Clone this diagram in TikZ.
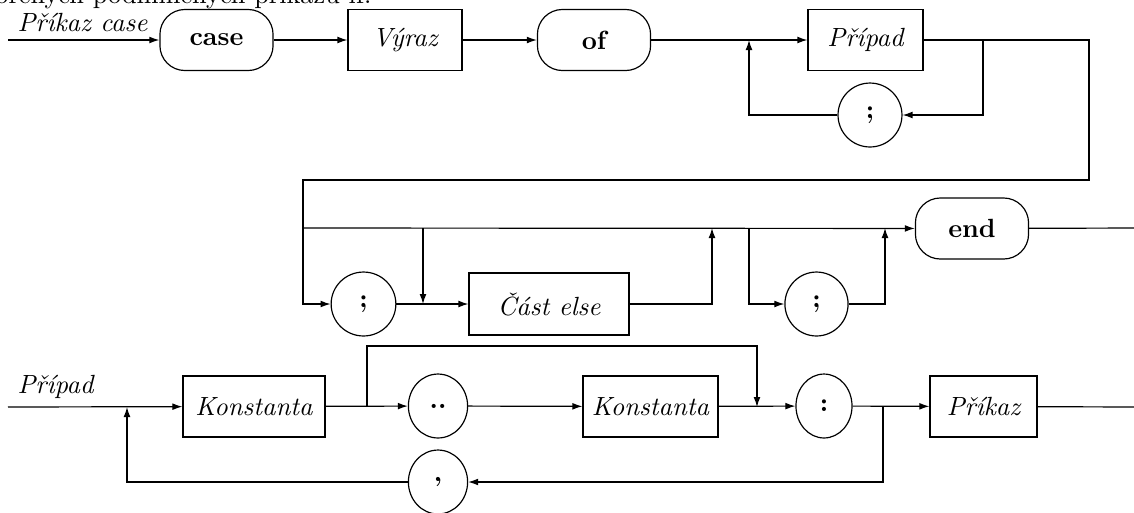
\documentclass[tikz,border=0pt]{standalone}
\usetikzlibrary{arrows.meta,shapes.geometric}
\begin{document}
\begin{tikzpicture}[x=0.38pt,y=-0.38pt,
  line width=0.45pt,
  arr/.style={-{Latex[length=3.8pt,width=2.6pt]}},
  kw/.style={draw,rounded corners=9.5pt,minimum width=43pt,minimum height=23.2pt,font=\bfseries},
  nt/.style={draw,rectangle,minimum height=23.2pt,font=\itshape},
  tk/.style={draw,ellipse,inner sep=0pt,minimum height=24.3pt,font=\bfseries},
  lbl/.style={font=\itshape,inner sep=0pt,anchor=base west}]
\useasboundingbox (0,0) rectangle (1134,512);

% running text of the page above the diagram
\begin{scope}
\clip (0,0) rectangle (1134,512);
\node[anchor=base east,inner sep=0pt] (prose) at (372,3) {vnořených podmíněných příkazů if.};
\end{scope}

% --- Příkaz case ---
\node[lbl] (lcase) at (17,31) {Příkaz case};
\coordinate (s1) at (8,40);
\node[kw] (case) at (216.5,40) {case};
\node[nt,minimum width=43.3pt] (vyraz) at (405,40) {Výraz};
\node[kw] (of) at (594,40) {of};
\node[nt,minimum width=43.7pt] (pripad) at (865.5,40) {Případ};
\node[tk,minimum width=24.3pt] (semiA) at (870,115) {;};
\coordinate (jA) at (749,40);
\coordinate (jAb) at (749,115);
\coordinate (jB) at (983,40);
\coordinate (jBb) at (983,115);
\coordinate (r1) at (1089,40);
\coordinate (r2) at (1089,180);
\coordinate (l1) at (303,180);
\coordinate (l2) at (303,228);
\coordinate (l3) at (303,304);

\node[tk,minimum width=24.6pt] (semiB) at (363.5,304) {;};
\node[nt,minimum width=60.8pt,minimum height=23.6pt] (else) at (549,304) {Část else};
\node[tk,minimum width=24pt] (semiC) at (816.5,304) {;};
\node[kw] (end) at (972,228.5) {end};
\coordinate (jC) at (423,228);
\coordinate (jCb) at (423,304);
\coordinate (uA) at (712,304);
\coordinate (uAt) at (712,228);
\coordinate (jD) at (749,228);
\coordinate (jDb) at (749,304);
\coordinate (uB) at (885,304);
\coordinate (uBt) at (885,228);
\coordinate (e2) at (1134,228);

\draw[arr] (s1) -- (case);
\draw[arr] (case) -- (vyraz);
\draw[arr] (vyraz) -- (of);
\draw[arr] (of) -- (pripad);
\draw[arr] (jB) -- (jBb) -- (semiA);
\draw[arr] (semiA) -- (jAb) -- (jA);
\draw[arr] (pripad) -- (r1) -- (r2) -- (l1) -- (l3) -- (semiB);
\draw[arr] (l2) -- (end);
\draw[arr] (semiB) -- (else);
\draw[arr] (jC) -- (jCb);
\draw[arr] (else) -- (uA) -- (uAt);
\draw[arr] (jD) -- (jDb) -- (semiC);
\draw[arr] (semiC) -- (uB) -- (uBt);
\draw (end) -- (e2);

% --- Případ ---
\node[lbl] (lpripad) at (17,393) {Případ};
\coordinate (s3) at (8,407);
\node[nt,minimum width=54pt] (konA) at (254,406.5) {Konstanta};
\node[tk,minimum width=22.5pt] (dots) at (438,406) {..};
\node[nt,minimum width=51.3pt] (konB) at (650.5,406.5) {Konstanta};
\node[tk,minimum width=21.3pt] (colon) at (824,406) {:};
\node[nt,minimum width=40.7pt] (prikaz) at (983.5,406.5) {Příkaz};
\node[tk,minimum width=22.5pt] (comma) at (438,482) {,};
\coordinate (jE) at (127,407);
\coordinate (jEb) at (127,482);
\coordinate (jF) at (367,407);
\coordinate (jFt) at (367,346);
\coordinate (jGt) at (757,346);
\coordinate (jG) at (757,407);
\coordinate (jH) at (883,407);
\coordinate (jHb) at (883,482);
\coordinate (e3) at (1134,407);

\draw[arr] (s3) -- (konA);
\draw[arr] (konA) -- (dots);
\draw[arr] (jF) -- (jFt) -- (jGt) -- (jG);
\draw[arr] (dots) -- (konB);
\draw[arr] (konB) -- (colon);
\draw[arr] (colon) -- (prikaz);
\draw (prikaz) -- (e3);
\draw[arr] (jH) -- (jHb) -- (comma);
\draw[arr] (comma) -- (jEb) -- (jE);
\end{tikzpicture}
\end{document}
